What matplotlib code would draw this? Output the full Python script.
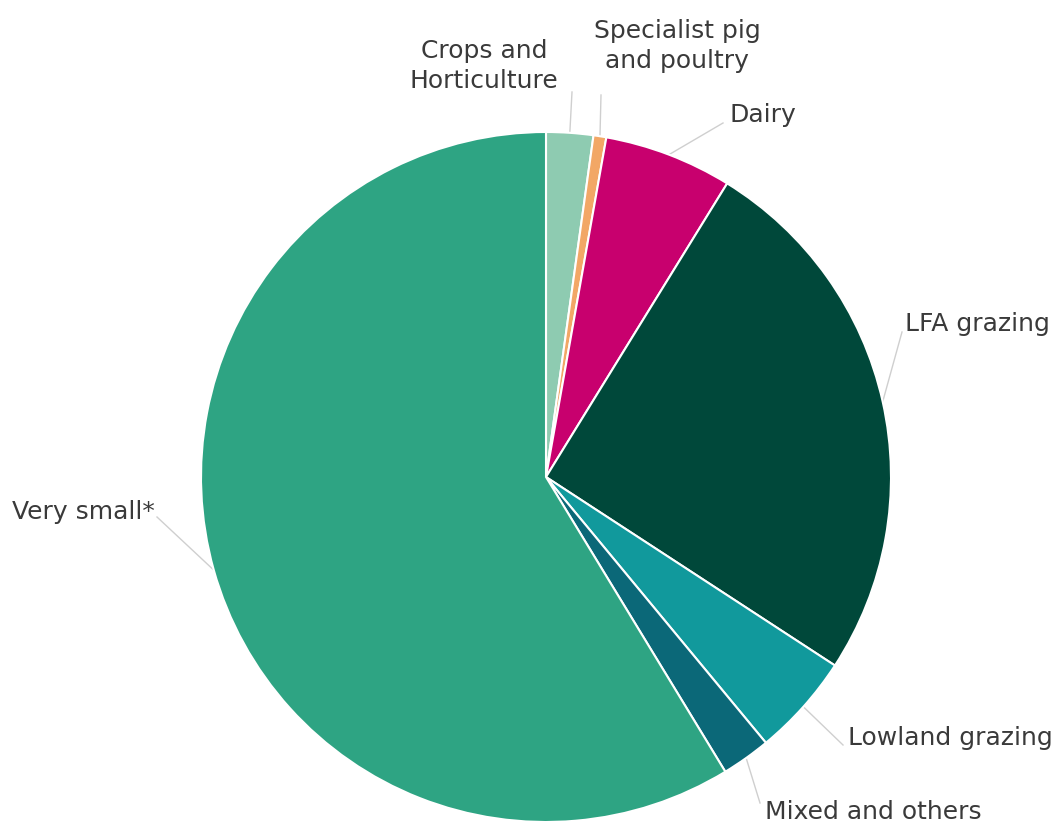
import numpy as np
import matplotlib
matplotlib.use("Agg")
import matplotlib.pyplot as plt

categories = ["Crops and\nHorticulture", "Specialist pig\nand poultry", "Dairy", "LFA grazing",
              "Lowland grazing", "Mixed and others", "Very small*"]
values = [2.2, 0.6, 6.0, 25.4, 4.8, 2.3, 58.7]
colors = ["#8ecbb1", "#f2a766", "#c8006e", "#00483a", "#11999c", "#0b6878", "#2ea483"]

# label layout (pixel coordinates from top-left)
label_pos = [(484, 66), (677, 46), (730, 115), (905, 324), (848, 738), (765, 812), (12, 512)]
label_ha = ["center", "center", "left", "left", "left", "left", "left"]
leader_start = [(572, 92), (601, 95), (723, 123), (902, 332), (843, 745), (760, 803), (157, 517)]

W, H = 1064, 825
fig = plt.figure(figsize=(W / 100, H / 100), dpi=100)
ax = fig.add_axes([0, 0, 1, 1])

cx, cy, r = 546, H - 477, 345
wedges, _ = ax.pie(values, colors=colors, startangle=90, counterclock=False,
                   center=(cx, cy), radius=r, frame=True,
                   wedgeprops=dict(edgecolor="white", linewidth=1.5))
ax.set_xlim(0, W)
ax.set_ylim(0, H)
ax.set_aspect("equal")
ax.axis("off")

for w, lab, (lx, ly), ha, (sx, sy) in zip(wedges, categories, label_pos, label_ha, leader_start):
    mid = np.deg2rad((w.theta1 + w.theta2) / 2)
    ex, ey = cx + r * np.cos(mid), cy + r * np.sin(mid)
    ax.plot([sx, ex], [H - sy, ey], color="#cfcfcf", lw=1.0, zorder=0.5)
    ax.text(lx, H - ly, lab, ha=ha, va="center", fontsize=18, color="#3a3a3a",
            family="DejaVu Sans", linespacing=1.3, multialignment="center")

fig.savefig("out.png", dpi=100)
